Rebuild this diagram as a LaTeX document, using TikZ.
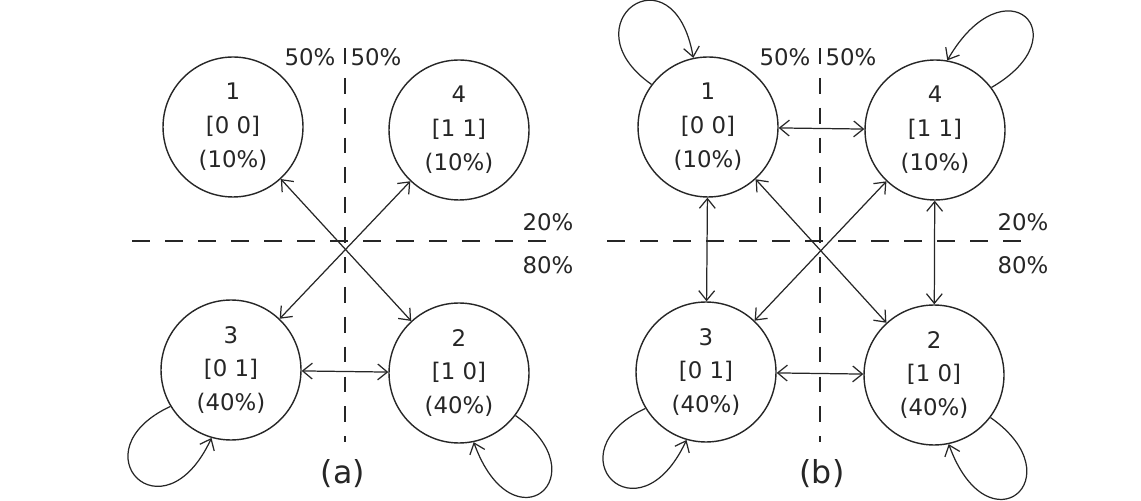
\documentclass[tikz,border=0pt]{standalone}
\usepackage{fontspec}
\setmainfont{DejaVu Sans}
\usetikzlibrary{arrows.meta}
\definecolor{ink}{HTML}{262626}
\tikzset{
  state/.style={circle,draw=ink,line width=0.8pt,minimum size=2.8cm,inner sep=0pt,
    align=center,text=ink,font=\fontsize{13}{19.3}\selectfont},
  lbl/.style={text=ink,font=\fontsize{13}{15}\selectfont,inner sep=0pt},
  captxt/.style={text=ink,font=\fontsize{18}{20}\selectfont,inner sep=0pt},
  divider/.style={draw=ink,line width=0.8pt,dash pattern=on 9pt off 8pt},
  hdivider/.style={draw=ink,line width=0.8pt,dash pattern=on 10pt off 8.8pt},
  mybarb/.tip={Straight Barb[length=5.5pt,width=9pt]},
  arr/.style={draw=ink,line width=0.7pt,-mybarb},
  biarr/.style={draw=ink,line width=0.7pt,mybarb-mybarb},
}
\begin{document}
\begin{tikzpicture}[x=0.02cm,y=0.02cm]
\useasboundingbox (0,0) rectangle (1141,500);
% ---------------- panel (a)
\coordinate (avt) at (345,452);
\coordinate (avb) at (345,58);
\coordinate (ahl) at (132,259);
\coordinate (ahr) at (553,259);
\draw[divider] (avt) -- (avb);
\draw[hdivider] (ahl) -- (ahr);
\node[state] (a1) at (233,373) {1\\{}[0 0]\\(10\%)};
\node[state] (a4) at (459,370) {4\\{}[1 1]\\(10\%)};
\node[state] (a3) at (231,130) {3\\{}[0 1]\\(40\%)};
\node[state] (a2) at (459,127) {2\\{}[1 0]\\(40\%)};
\node[lbl] (a50l) at (310,443) {50\%};
\node[lbl] (a50r) at (376,443) {50\%};
\node[lbl] (a20) at (548,278) {20\%};
\node[lbl] (a80) at (548,235) {80\%};
\node[captxt] (acap) at (343,26) {(a)};
\draw[biarr] (a1) -- (a2);
\draw[biarr] (a4) -- (a3);
\draw[biarr] (a3) -- (a2);
\draw[arr] (a3.211) .. controls +(205:105) and +(245:115) .. (a3.254);
\draw[arr] (a2.323) .. controls +(325:105) and +(290:115) .. (a2.282);
% ---------------- panel (b)
\coordinate (bvt) at (820,452);
\coordinate (bvb) at (820,58);
\coordinate (bhl) at (607,259);
\coordinate (bhr) at (1028,259);
\draw[divider] (bvt) -- (bvb);
\draw[hdivider] (bhl) -- (bhr);
\node[state] (b1) at (708,373) {1\\{}[0 0]\\(10\%)};
\node[state] (b4) at (935,370) {4\\{}[1 1]\\(10\%)};
\node[state] (b3) at (706,128) {3\\{}[0 1]\\(40\%)};
\node[state] (b2) at (934,125) {2\\{}[1 0]\\(40\%)};
\node[lbl] (b50l) at (785,443) {50\%};
\node[lbl] (b50r) at (851,443) {50\%};
\node[lbl] (b20) at (1023,278) {20\%};
\node[lbl] (b80) at (1023,235) {80\%};
\node[captxt] (bcap) at (822,26) {(b)};
\draw[biarr] (b1) -- (b2);
\draw[biarr] (b4) -- (b3);
\draw[biarr] (b3) -- (b2);
\draw[biarr] (b1) -- (b4);
\draw[biarr] (b1) -- (b3);
\draw[biarr] (b4) -- (b2);
\draw[arr] (b3.211) .. controls +(205:105) and +(245:115) .. (b3.254);
\draw[arr] (b2.323) .. controls +(325:105) and +(290:115) .. (b2.282);
\draw[arr] (b1.143) .. controls +(145:105) and +(100:115) .. (b1.102);
\draw[arr] (b4.37) .. controls +(30:105) and +(60:115) .. (b4.80);
\end{tikzpicture}
\end{document}
